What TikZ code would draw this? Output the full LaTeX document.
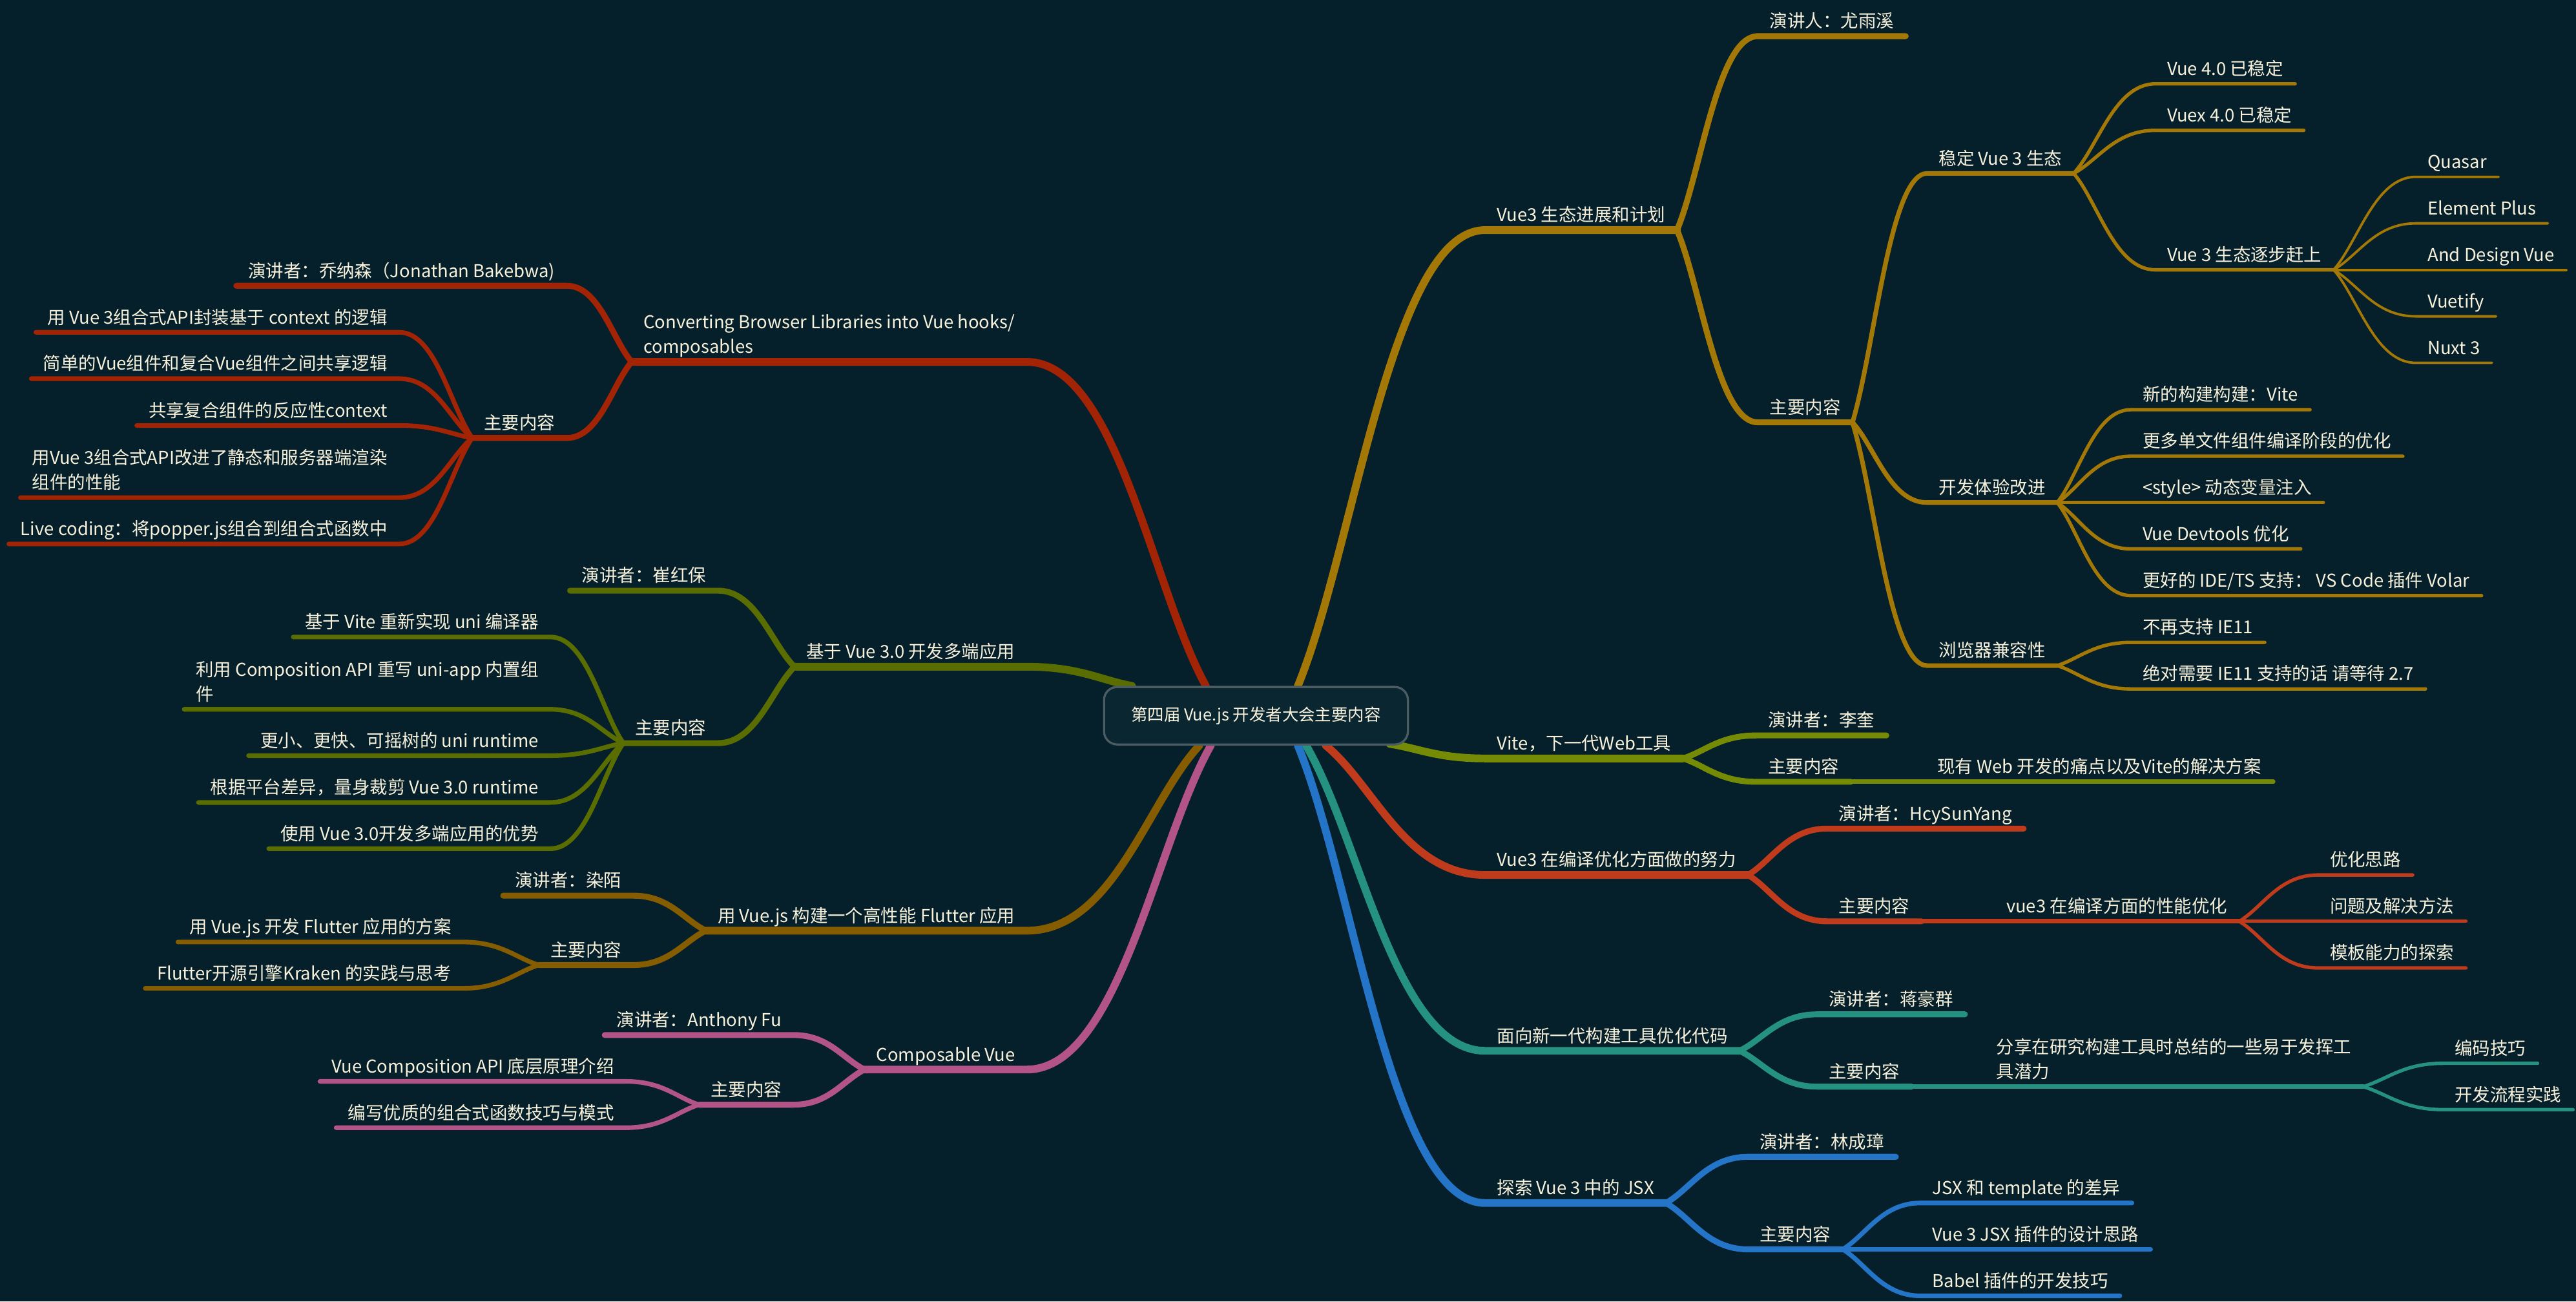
\documentclass[tikz,border=0pt]{standalone}
\usepackage{fontspec}
\setmainfont{Noto Sans CJK SC}
\usetikzlibrary{calc}
\definecolor{bgc}{HTML}{05202A}
\definecolor{rootfill}{HTML}{0A2631}
\definecolor{rootline}{HTML}{4B5C63}
\definecolor{txt}{HTML}{F7F1DC}
\definecolor{cGold}{HTML}{A47806}
\definecolor{cOlive}{HTML}{758B06}
\definecolor{cRed}{HTML}{C03B1C}
\definecolor{cTeal}{HTML}{25917F}
\definecolor{cBlue}{HTML}{2474C8}
\definecolor{cDRed}{HTML}{A32305}
\definecolor{cOliveL}{HTML}{5A6D00}
\definecolor{cBrown}{HTML}{855C00}
\definecolor{cPink}{HTML}{B35487}
\pgfdeclarelayer{back}
\pgfdeclarelayer{lines}
\pgfsetlayers{back,lines,main}
\newcommand\dep{\rule[-2.4pt]{0pt}{2.4pt}}
\newcommand\lkR[3]{\draw[#1] let \p1=(#2), \p2=(#3.south west) in (\p1) .. controls ({\x1+0.3*(\x2-\x1)},{\y1+0.3*(\y2-\y1)}) and ({0.5*\x1+0.5*\x2},\y2) .. (\p2) -- (#3.south east);}
\newcommand\lkL[3]{\draw[#1] let \p1=(#2), \p2=(#3.south east) in (\p1) .. controls ({\x1+0.3*(\x2-\x1)},{\y1+0.3*(\y2-\y1)}) and ({0.5*\x1+0.5*\x2},\y2) .. (\p2) -- (#3.south west);}
\begin{document}
\begin{tikzpicture}[x=1pt,y=-1pt,
  topic/.style={font=\fontsize{10.8}{15}\selectfont, text=txt, inner xsep=7pt, inner ysep=2.6pt, text height=9.7pt, text depth=2.4pt},
  tR/.style={topic,anchor=south west},
  tL/.style={topic,anchor=south east},
  mtopic/.style={font=\fontsize{10.8}{15}\selectfont, text=txt, inner xsep=7pt, inner ysep=2.6pt, align=left},
  mR/.style={mtopic,anchor=south west},
  mL/.style={mtopic,anchor=south east},
  l1/.style={line width=4.7pt,line cap=round},
  l2/.style={line width=3.6pt,line cap=round},
  l3/.style={line width=2.8pt,line cap=round},
  l4/.style={line width=2.1pt,line cap=round},
  l5/.style={line width=1.5pt,line cap=round},
  rootbox/.style={draw=rootline, fill=rootfill, line width=1.3pt, rounded corners=8pt, minimum width=185pt, minimum height=35pt, text=txt, font=\fontsize{10}{12}\selectfont}
]
\begin{pgfonlayer}{back}
\fill[bgc] (0,0) rectangle (1568,792);
\end{pgfonlayer}
\useasboundingbox (0,0) rectangle (1568,792);

\node[rootbox] (root) at (764.5,435.5) {第四届 Vue.js 开发者大会主要内容};

% ---------- right: Vue3 eco
\node[tR] (A) at (904,140) {Vue3 生态进展和计划};
\node[tR] (Aa) at (1070,22) {演讲人：尤雨溪};
\node[tR] (Ab) at (1070,257) {主要内容};
\node[tR] (Ab1) at (1173,105.5) {稳定 Vue 3 生态};
\node[tR] (Ab1a) at (1312,51) {Vue 4.0 已稳定};
\node[tR] (Ab1b) at (1312,79.3) {Vuex 4.0 已稳定};
\node[tR] (Ab1c) at (1312,164.2) {Vue 3 生态逐步赶上};
\node[tR] (q1) at (1470.5,107.6) {Quasar};
\node[tR] (q2) at (1470.5,135.9) {Element Plus};
\node[tR] (q3) at (1470.5,164.2) {And Design Vue};
\node[tR] (q4) at (1470.5,192.5) {Vuetify};
\node[tR] (q5) at (1470.5,220.8) {Nuxt 3};
\node[tR] (Ab2) at (1173,305.8) {开发体验改进};
\node[tR] (Ab2a) at (1297,249.3) {新的构建构建：Vite};
\node[tR] (Ab2b) at (1297,277.6) {更多单文件组件编译阶段的优化};
\node[tR] (Ab2c) at (1297,305.8) {<style> 动态变量注入};
\node[tR] (Ab2d) at (1297,334) {Vue Devtools 优化};
\node[tR] (Ab2e) at (1297,362.4) {更好的 IDE/TS 支持： VS Code 插件 Volar};
\node[tR] (Ab3) at (1173,405) {浏览器兼容性};
\node[tR] (Ab3a) at (1297,390.9) {不再支持 IE11};
\node[tR] (Ab3b) at (1297,419.2) {绝对需要 IE11 支持的话 请等待 2.7};

% ---------- right: Vite
\node[tR] (B) at (904,461.5) {Vite，下一代Web工具};
\node[tR] (Ba) at (1069,447.5) {演讲者：李奎};
\node[tR] (Bb) at (1069,475.7) {主要内容};
\node[tR] (Bb1) at (1172,475.7) {现有 Web 开发的痛点以及Vite的解决方案};

% ---------- right: compile
\node[tR] (C) at (904,532.4) {Vue3 在编译优化方面做的努力};
\node[tR] (Ca) at (1112,504.2) {演讲者：HcySunYang};
\node[tR] (Cb) at (1112,560.6) {主要内容};
\node[tR] (Cb1) at (1214,560.6) {vue3 在编译方面的性能优化};
\node[tR] (Cb1a) at (1411,532.4) {优化思路};
\node[tR] (Cb1b) at (1411,560.6) {问题及解决方法};
\node[tR] (Cb1c) at (1411,589) {模板能力的探索};

% ---------- right: build tools
\node[tR] (D) at (904,639.4) {面向新一代构建工具优化代码};
\node[tR] (Da) at (1106,617.2) {演讲者：蒋豪群};
\node[tR] (Db) at (1106,661.2) {主要内容};
\node[mR] (Db1) at (1208,661.2) {分享在研究构建工具时总结的一些易于发挥工\\具潜力\dep};
\node[tR] (Db1a) at (1487,647) {编码技巧};
\node[tR] (Db1b) at (1487,675.2) {开发流程实践};

% ---------- right: JSX
\node[tR] (E) at (904,732) {探索 Vue 3 中的 JSX};
\node[tR] (Ea) at (1064,703.9) {演讲者：林成璋};
\node[tR] (Eb) at (1064,760.2) {主要内容};
\node[tR] (Eb1) at (1169,732) {JSX 和 template 的差异};
\node[tR] (Eb2) at (1169,760.2) {Vue 3 JSX 插件的设计思路};
\node[tR] (Eb3) at (1169,788.5) {Babel 插件的开发技巧};

% ---------- left: Converting
\node[mL] (F) at (625,220.2) {Converting Browser Libraries into Vue hooks/\\composables\dep};
\node[tL] (Fa) at (345,173.9) {演讲者：乔纳森（Jonathan Bakebwa)};
\node[tL] (Fb) at (345,266.5) {主要内容};
\node[tL] (Fb1) at (243,202.2) {用 Vue 3组合式API封装基于 context 的逻辑};
\node[tL] (Fb2) at (243,230.4) {简单的Vue组件和复合Vue组件之间共享逻辑};
\node[tL] (Fb3) at (243,258.9) {共享复合组件的反应性context};
\node[mL] (Fb4) at (243,302.8) {用Vue 3组合式API改进了静态和服务器端渲染\\组件的性能\dep};
\node[tL] (Fb5) at (243,331) {Live coding：将popper.js组合到组合式函数中};

% ---------- left: multi-platform
\node[tL] (G) at (625,405.7) {基于 Vue 3.0 开发多端应用};
\node[tL] (Ga) at (437,359.4) {演讲者：崔红保};
\node[tL] (Gb) at (437,452.2) {主要内容};
\node[tL] (Gb1) at (335,387.6) {基于 Vite 重新实现 uni 编译器};
\node[mL] (Gb2) at (335,431.6) {利用 Composition API 重写 uni-app 内置组\\件\dep};
\node[tL] (Gb3) at (335,459.8) {更小、更快、可摇树的 uni runtime};
\node[tL] (Gb4) at (335,488.3) {根据平台差异，量身裁剪 Vue 3.0 runtime};
\node[tL] (Gb5) at (335,516.4) {使用 Vue 3.0开发多端应用的优势};

% ---------- left: Flutter
\node[tL] (H) at (625,566.3) {用 Vue.js 构建一个高性能 Flutter 应用};
\node[tL] (Ha) at (385.5,545) {演讲者：染陌};
\node[tL] (Hb) at (385.5,587.2) {主要内容};
\node[tL] (Hb1) at (282,573.2) {用 Vue.js 开发 Flutter 应用的方案};
\node[tL] (Hb2) at (282,601.4) {Flutter开源引擎Kraken 的实践与思考};

% ---------- left: Composable
\node[tL] (K) at (625,650.8) {Composable Vue};
\node[tL] (Ka) at (483,629.8) {演讲者：Anthony Fu};
\node[tL] (Kb) at (483,672.2) {主要内容};
\node[tL] (Kb1) at (381,658) {Vue Composition API 底层原理介绍};
\node[tL] (Kb2) at (381,686.2) {编写优质的组合式函数技巧与模式};

\begin{pgfonlayer}{lines}
% main branches
\lkR{l1,cGold}{[xshift=25.5pt]root.north}{A}
\lkR{l1,cOlive}{[xshift=81.5pt,yshift=1pt]root.south}{B}
\lkR{l1,cRed}{[xshift=42.5pt]root.south}{C}
\lkR{l1,cTeal}{[xshift=30.5pt]root.south}{D}
\lkR{l1,cBlue}{[xshift=25.5pt]root.south}{E}
\lkL{l1,cDRed}{[xshift=-30.5pt]root.north}{F}
\lkL{l1,cOliveL}{[xshift=-75.5pt]root.north}{G}
\lkL{l1,cBrown}{[xshift=-34.5pt]root.south}{H}
\lkL{l1,cPink}{[xshift=-27.5pt]root.south}{K}
% golden
\foreach \c in {Aa,Ab} {\lkR{l2,cGold}{A.south east}{\c}}
\foreach \c in {Ab1,Ab2,Ab3} {\lkR{l3,cGold}{Ab.south east}{\c}}
\foreach \c in {Ab1a,Ab1b,Ab1c} {\lkR{l4,cGold}{Ab1.south east}{\c}}
\foreach \c in {Ab2a,Ab2b,Ab2c,Ab2d,Ab2e} {\lkR{l4,cGold}{Ab2.south east}{\c}}
\foreach \c in {Ab3a,Ab3b} {\lkR{l4,cGold}{Ab3.south east}{\c}}
\foreach \c in {q1,q2,q3,q4,q5} {\lkR{l5,cGold}{Ab1c.south east}{\c}}
% vite
\foreach \c in {Ba,Bb} {\lkR{l2,cOlive}{B.south east}{\c}}
\lkR{l3,cOlive}{Bb.south east}{Bb1}
% compile
\foreach \c in {Ca,Cb} {\lkR{l2,cRed}{C.south east}{\c}}
\lkR{l3,cRed}{Cb.south east}{Cb1}
\foreach \c in {Cb1a,Cb1b,Cb1c} {\lkR{l4,cRed}{Cb1.south east}{\c}}
% build tools
\foreach \c in {Da,Db} {\lkR{l2,cTeal}{D.south east}{\c}}
\lkR{l3,cTeal}{Db.south east}{Db1}
\foreach \c in {Db1a,Db1b} {\lkR{l4,cTeal}{Db1.south east}{\c}}
% jsx
\foreach \c in {Ea,Eb} {\lkR{l2,cBlue}{E.south east}{\c}}
\foreach \c in {Eb1,Eb2,Eb3} {\lkR{l3,cBlue}{Eb.south east}{\c}}
% converting
\foreach \c in {Fa,Fb} {\lkL{l2,cDRed}{F.south west}{\c}}
\foreach \c in {Fb1,Fb2,Fb3,Fb4,Fb5} {\lkL{l3,cDRed}{Fb.south west}{\c}}
% multi
\foreach \c in {Ga,Gb} {\lkL{l2,cOliveL}{G.south west}{\c}}
\foreach \c in {Gb1,Gb2,Gb3,Gb4,Gb5} {\lkL{l3,cOliveL}{Gb.south west}{\c}}
% flutter
\foreach \c in {Ha,Hb} {\lkL{l2,cBrown}{H.south west}{\c}}
\foreach \c in {Hb1,Hb2} {\lkL{l3,cBrown}{Hb.south west}{\c}}
% composable
\foreach \c in {Ka,Kb} {\lkL{l2,cPink}{K.south west}{\c}}
\foreach \c in {Kb1,Kb2} {\lkL{l3,cPink}{Kb.south west}{\c}}
\end{pgfonlayer}
\end{tikzpicture}
\end{document}
